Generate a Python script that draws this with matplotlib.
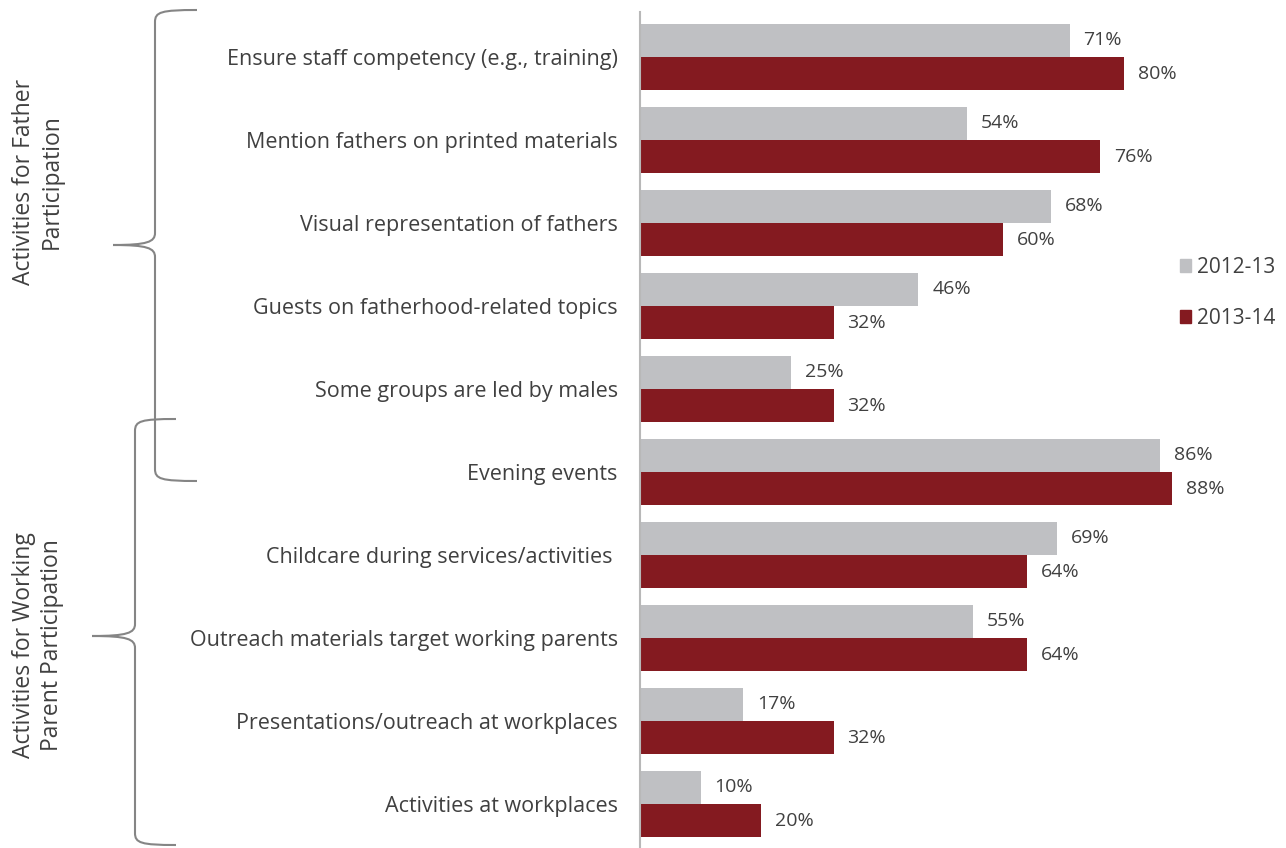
import matplotlib.pyplot as plt
from matplotlib.path import Path
from matplotlib.patches import PathPatch, Patch

plt.rcParams['font.family'] = ['Open Sans', 'DejaVu Sans']

activities = [
    "Ensure staff competency (e.g., training)",
    "Mention fathers on printed materials",
    "Visual representation of fathers",
    "Guests on fatherhood-related topics",
    "Some groups are led by males",
    "Evening events",
    "Childcare during services/activities ",
    "Outreach materials target working parents",
    "Presentations/outreach at workplaces",
    "Activities at workplaces",
]
pct_2012 = [71, 54, 68, 46, 25, 86, 69, 55, 17, 10]
pct_2013 = [80, 76, 60, 32, 32, 88, 64, 64, 32, 20]
years = ["2012-13", "2013-14"]
groups = ["Activities for Father\nParticipation",
          "Activities for Working\nParent Participation"]

GREY = "#bfc0c3"
RED = "#841a20"
TEXT = "#404040"
BRACE = "#858585"

W, H = 1286, 848
fig = plt.figure(figsize=(W / 100, H / 100), dpi=100)
ax = fig.add_axes([640 / W, 0, 605 / W, 1 - 12 / H])

rows = list(range(len(activities)))
h = 0.4
ax.barh([r - h / 2 for r in rows], pct_2012, height=h, color=GREY)
ax.barh([r + h / 2 for r in rows], pct_2013, height=h, color=RED)

for r, a, b in zip(rows, pct_2012, pct_2013):
    ax.annotate(f"{a}%", (a, r - h / 2), xytext=(10, 0), textcoords="offset points",
                ha="left", va="center", fontsize=14, color=TEXT)
    ax.annotate(f"{b}%", (b, r + h / 2), xytext=(10, 0), textcoords="offset points",
                ha="left", va="center", fontsize=14, color=TEXT)

ax.set_xlim(0, 100)
ax.set_ylim(9.53, -0.542)
ax.set_yticks(rows)
ax.set_yticklabels(activities, fontsize=15.5, color=TEXT)
ax.tick_params(axis="y", length=0, pad=16)
ax.set_xticks([])
for side in ["top", "right", "bottom"]:
    ax.spines[side].set_visible(False)
ax.spines["left"].set_color("#b8b8b8")
ax.spines["left"].set_linewidth(1.5)

handles = [Patch(color=GREY), Patch(color=RED)]
fig.legend(handles, years, loc="center left", bbox_to_anchor=(1161 / W, 1 - 293 / H),
           frameon=False, fontsize=15, handlelength=0.55, handleheight=0.55,
           handletextpad=0.3, labelspacing=1.45, labelcolor=TEXT)

# overlay in pixel coordinates for the group braces and labels
ov = fig.add_axes([0, 0, 1, 1], zorder=-1)
ov.set_xlim(0, W)
ov.set_ylim(H, 0)
ov.axis("off")


def brace(x_spine, x_tip, x_point, y_top, y_mid, y_bot, r=12):
    verts = [
        (x_tip, y_top),
        (x_spine + 6, y_top), (x_spine, y_top + 2), (x_spine, y_top + r),
        (x_spine, y_mid - r),
        (x_spine, y_mid - 3), (x_spine - 8, y_mid), (x_point, y_mid),
        (x_spine - 8, y_mid), (x_spine, y_mid + 3), (x_spine, y_mid + r),
        (x_spine, y_bot - r),
        (x_spine, y_bot - 2), (x_spine + 6, y_bot), (x_tip, y_bot),
    ]
    codes = [Path.MOVETO,
             Path.CURVE4, Path.CURVE4, Path.CURVE4,
             Path.LINETO,
             Path.CURVE4, Path.CURVE4, Path.CURVE4,
             Path.CURVE4, Path.CURVE4, Path.CURVE4,
             Path.LINETO,
             Path.CURVE4, Path.CURVE4, Path.CURVE4]
    ov.add_patch(PathPatch(Path(verts, codes), fill=False, edgecolor=BRACE, lw=1.5))


brace(155, 197, 113, 10, 245, 481)
brace(135, 176, 92, 419, 636, 845)

ov.text(38, 182, groups[0], rotation=90, ha="center", va="center",
        multialignment="center", fontsize=16.5, color=TEXT, linespacing=1.2)
ov.text(38, 645, groups[1], rotation=90, ha="center", va="center",
        multialignment="center", fontsize=16.5, color=TEXT, linespacing=1.2)

fig.savefig("out.png", dpi=100)
